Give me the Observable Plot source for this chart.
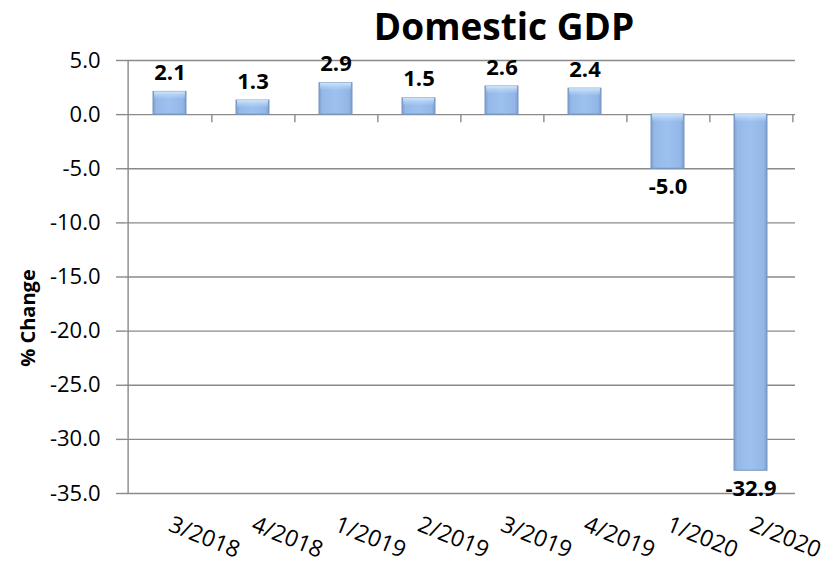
<!DOCTYPE html>
<html><head><meta charset="utf-8">
<script src="https://cdn.jsdelivr.net/npm/d3@7"></script>
<script src="https://cdn.jsdelivr.net/npm/@observablehq/plot@0.6"></script>
<style>
body{margin:0;background:#fff;}
#wrap{position:relative;width:834px;height:570px;font-family:"Open Sans",sans-serif;}
#title{position:absolute;left:504px;top:7px;transform:translateX(-50%);font-size:37px;line-height:37px;font-weight:bold;white-space:nowrap;color:#000;}
#ylabel{position:absolute;left:27px;top:318px;transform:translate(-50%,-50%) rotate(-90deg);font-size:20px;font-weight:bold;white-space:nowrap;color:#000;}
</style></head>
<body><div id="wrap"><div id="title">Domestic GDP</div><div id="ylabel">% Change</div></div>
<script>
const quarters = ["3/2018","4/2018","1/2019","2/2019","3/2019","4/2019","1/2020","2/2020"];
const gdpChange = [2.1, 1.3, 2.9, 1.5, 2.6, 2.4, -5.0, -32.9];
const yTicks = [5, 0, -5, -10, -15, -20, -25, -30, -35];

const data = quarters.map((q, i) => ({quarter: q, value: gdpChange[i]}));
const W = 834, H = 570, mL = 125, mR = 39, mT = 60, mB = 77;
const step = (W - mL - mR) / quarters.length;
const grid = "#8a8a8a";

const chart = Plot.plot({
  width: W, height: H, marginLeft: mL, marginRight: mR, marginTop: mT, marginBottom: mB,
  style: {fontFamily: '"Open Sans", sans-serif', fontSize: "22px", color: "#000", background: "transparent", overflow: "visible"},
  x: {domain: quarters, paddingInner: 0.6, paddingOuter: 0.3, label: null},
  y: {domain: [-35, 5], label: null},
  marks: [
    Plot.gridY(yTicks, {stroke: grid, strokeOpacity: 1, strokeWidth: 1.4}),
    Plot.axisY(yTicks, {tickSize: 9, tickPadding: 16, stroke: grid, strokeWidth: 1.4, tickFormat: d => d.toFixed(1), fontSize: 22, fill: "#000"}),
    Plot.ruleX([quarters[0]], {x: d => d, dx: -step / 2, stroke: grid, strokeWidth: 1.4}),
    Plot.ruleX(quarters, {x: d => d, y1: 0, y2: 0, dx: step / 2, insetBottom: -8, stroke: grid, strokeWidth: 1.4}),
    Plot.axisX({tickSize: 0, tickRotate: 22, tickPadding: 30, fontSize: 23, fill: "#000"}),
    Plot.barY(data, {x: "quarter", y: "value", fill: "url(#barGrad)", stroke: "#7697c4", strokeWidth: 1}),
    Plot.barY(data, {x: "quarter", y1: d => Math.max(0, d.value), y2: d => Math.max(0, d.value), insetBottom: -7, insetLeft: 1, insetRight: 1, fill: "url(#bevelGrad)"}),
    Plot.text(data, {filter: d => d.value >= 0, x: "quarter", y: "value", text: d => d.value.toFixed(1), dy: -19, fontSize: 22, fontWeight: "bold", fill: "#000"}),
    Plot.text(data, {filter: d => d.value < 0, x: "quarter", y: "value", text: d => d.value.toFixed(1), dy: 18, fontSize: 22, fontWeight: "bold", fill: "#000"})
  ]
});

d3.select(chart).insert("defs", ":first-child").html(`
  <linearGradient id="barGrad" x1="0" y1="0" x2="1" y2="0">
    <stop offset="0" stop-color="#7c9ecf"/>
    <stop offset="0.1" stop-color="#94b8e8"/>
    <stop offset="0.5" stop-color="#9dc1ef"/>
    <stop offset="0.9" stop-color="#92b6e6"/>
    <stop offset="1" stop-color="#7b9dcd"/>
  </linearGradient>
  <linearGradient id="bevelGrad" x1="0" y1="0" x2="0" y2="1">
    <stop offset="0" stop-color="#d6e9fc" stop-opacity="0.95"/>
    <stop offset="1" stop-color="#b4d3f5" stop-opacity="0.2"/>
  </linearGradient>`);
chart.style.position = "absolute";
chart.style.left = "0";
chart.style.top = "0";
document.getElementById("wrap").appendChild(chart);
</script>
</body></html>
